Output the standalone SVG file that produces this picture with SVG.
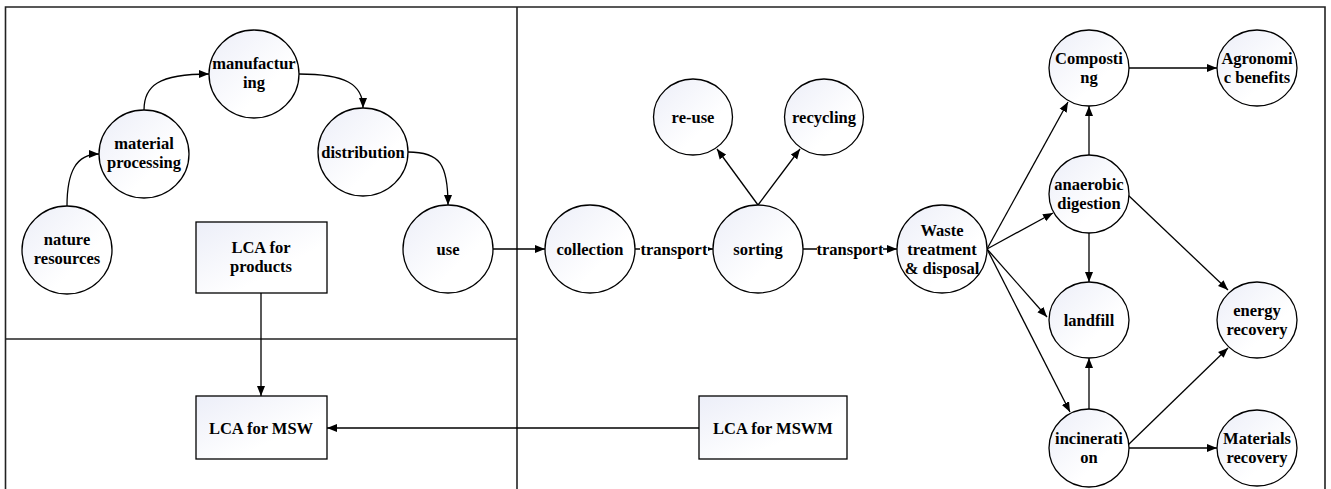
<svg xmlns="http://www.w3.org/2000/svg" width="1331" height="489" viewBox="0 0 1331 489">
<defs>
<linearGradient id="g" x1="0" y1="0" x2="1" y2="1">
<stop offset="0" stop-color="#eceef8"/>
<stop offset="0.65" stop-color="#ffffff"/>
</linearGradient>
<marker id="a" viewBox="0 0 10 10" refX="10" refY="5" markerWidth="10" markerHeight="10" markerUnits="userSpaceOnUse" orient="auto">
<path d="M0,1 L10,5 L0,9 z" fill="#000"/>
</marker>
<style>
.n{fill:url(#g);stroke:#000;stroke-width:1.3}
.t{font-family:'Liberation Serif',serif;font-weight:700;font-size:16.5px;text-anchor:middle;fill:#000}
.c{fill:none;stroke:#000;stroke-width:1.3;marker-end:url(#a)}
.f{fill:none;stroke:#222;stroke-width:1.6}
</style>
</defs>
<rect width="1331" height="489" fill="#fff"/>
<g id="frame">
<path class="f" d="M5.5,489 V7 H1325 V489"/>
<path class="f" d="M517,7 V489"/>
<path class="f" d="M5.5,339 H517"/>
</g>
<g id="connectors">
<path class="c" d="M67,206 C67,172 76,154 99,154"/>
<path class="c" d="M144,110 C144,86 158,74 209,74"/>
<path class="c" d="M299,74 C345,74 363,84 363,108"/>
<path class="c" d="M408,152 C440,152 448,164 448,205"/>
<path class="c" d="M493,249 H545"/>
<path class="c" d="M635,249 H713"/>
<path class="c" d="M803,249 H897"/>
<path class="c" d="M758,205 L717,149"/>
<path class="c" d="M758,205 L800,149"/>
<path class="c" d="M987,249 L1068,102"/>
<path class="c" d="M987,249 L1053,213"/>
<path class="c" d="M987,249 L1047,317"/>
<path class="c" d="M987,249 L1070,412"/>
<path class="c" d="M1089,155 V106"/>
<path class="c" d="M1089,233 V282"/>
<path class="c" d="M1089,410 V358"/>
<path class="c" d="M1129,68 H1217"/>
<path class="c" d="M1128,195 L1228,290"/>
<path class="c" d="M1128,445 L1228,348"/>
<path class="c" d="M1129,448 H1217"/>
<path class="c" d="M261,293 V396"/>
<path class="c" d="M699,428 H327"/>
<rect x="640" y="238" width="68" height="20" fill="#fff"/>
<text class="t" x="674" y="255">transport</text>
<rect x="817" y="238" width="66" height="20" fill="#fff"/>
<text class="t" x="850" y="255">transport</text>
</g>
<g id="nature"><ellipse class="n" cx="67" cy="250" rx="45" ry="44"/><text class="t" x="67" y="245">nature</text><text class="t" x="67" y="264">resources</text></g>
<g id="material"><ellipse class="n" cx="144" cy="154" rx="45" ry="44"/><text class="t" x="144" y="149">material</text><text class="t" x="144" y="168">processing</text></g>
<g id="manufacturing"><ellipse class="n" cx="254" cy="74" rx="45" ry="44"/><text class="t" x="254" y="69">manufactur</text><text class="t" x="254" y="88">ing</text></g>
<g id="distribution"><ellipse class="n" cx="363" cy="152" rx="45" ry="44"/><text class="t" x="363" y="158">distribution</text></g>
<g id="use"><ellipse class="n" cx="448" cy="249" rx="45" ry="44"/><text class="t" x="448" y="255">use</text></g>
<g id="lca-products"><rect class="n" x="196" y="222" width="131" height="71"/><text class="t" x="261" y="253">LCA for</text><text class="t" x="261" y="272">products</text></g>
<g id="lca-msw"><rect class="n" x="196" y="396" width="131" height="63"/><text class="t" x="261" y="434">LCA for MSW</text></g>
<g id="collection"><ellipse class="n" cx="590" cy="249" rx="45" ry="44"/><text class="t" x="590" y="255">collection</text></g>
<g id="sorting"><ellipse class="n" cx="758" cy="249" rx="45" ry="44"/><text class="t" x="758" y="255">sorting</text></g>
<g id="waste"><ellipse class="n" cx="942" cy="249" rx="45" ry="44"/><text class="t" x="942" y="236">Waste</text><text class="t" x="942" y="255">treatment</text><text class="t" x="942" y="274">&amp; disposal</text></g>
<g id="reuse"><ellipse class="n" cx="693" cy="117" rx="39.5" ry="38"/><text class="t" x="693" y="123">re-use</text></g>
<g id="recycling"><ellipse class="n" cx="824" cy="117" rx="39.5" ry="38"/><text class="t" x="824" y="123">recycling</text></g>
<g id="lca-mswm"><rect class="n" x="699" y="396" width="148" height="63"/><text class="t" x="773" y="434">LCA for MSWM</text></g>
<g id="composting"><ellipse class="n" cx="1089" cy="68" rx="40" ry="38"/><text class="t" x="1089" y="64">Composti</text><text class="t" x="1089" y="83">ng</text></g>
<g id="agronomic"><ellipse class="n" cx="1257" cy="68" rx="40" ry="38"/><text class="t" x="1257" y="64">Agronomi</text><text class="t" x="1257" y="83">c benefits</text></g>
<g id="anaerobic"><ellipse class="n" cx="1089" cy="194" rx="40" ry="39"/><text class="t" x="1089" y="190">anaerobic</text><text class="t" x="1089" y="209">digestion</text></g>
<g id="landfill"><ellipse class="n" cx="1089" cy="320" rx="40" ry="38"/><text class="t" x="1089" y="326">landfill</text></g>
<g id="energy"><ellipse class="n" cx="1257" cy="320" rx="40" ry="38"/><text class="t" x="1257" y="316">energy</text><text class="t" x="1257" y="335">recovery</text></g>
<g id="incineration"><ellipse class="n" cx="1089" cy="448" rx="40" ry="39"/><text class="t" x="1089" y="444">incinerati</text><text class="t" x="1089" y="463">on</text></g>
<g id="materials"><ellipse class="n" cx="1257" cy="448" rx="40" ry="38"/><text class="t" x="1257" y="444">Materials</text><text class="t" x="1257" y="463">recovery</text></g>
</svg>
